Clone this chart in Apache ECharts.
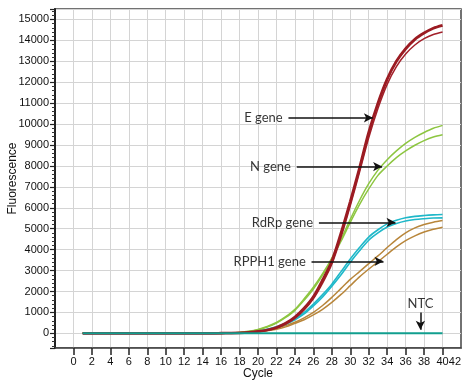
<!DOCTYPE html>
<html>
<head>
<meta charset="utf-8">
<script src="https://cdn.jsdelivr.net/npm/echarts@6/dist/echarts.min.js"></script>
<style>html,body{margin:0;padding:0;background:#fff}#c{width:463px;height:380px}</style>
</head>
<body>
<div id="c"></div>
<script>
const cycles = [1,2,3,4,5,6,7,8,9,10,11,12,13,14,15,16,17,18,19,20,21,22,23,24,25,26,27,28,29,30,31,32,33,34,35,36,37,38,39,40];
const xTickLabels = [0,2,4,6,8,10,12,14,16,18,20,22,24,26,28,30,32,34,36,38,40,42];
const xTickMarks = [0,2,4,6,8,10,12,14,16,18,20,22,24,26,28,30,32,34,36,38,40];

const eHigh = [0,0,0,0,0,0,0,0,0,0,0,0,0,0,0,5,10,20,45,90,160,280,480,780,1200,1750,2550,3450,4800,6300,7900,9600,11000,12150,13000,13600,14050,14350,14580,14720];
const eLow  = [0,0,0,0,0,0,0,0,0,0,0,0,0,0,0,4,8,18,40,80,145,255,440,720,1120,1650,2400,3300,4600,6100,7700,9350,10750,11900,12750,13350,13780,14080,14280,14400];
const nHigh = [0,0,0,0,0,0,0,0,0,0,0,0,0,0,0,6,18,45,100,190,330,520,800,1150,1650,2200,2850,3600,4500,5450,6350,7150,7800,8300,8720,9080,9370,9600,9800,9940];
const nLow  = [0,0,0,0,0,0,0,0,0,0,0,0,0,0,0,5,15,40,90,175,305,490,760,1100,1580,2120,2780,3550,4400,5300,6150,6900,7550,8000,8400,8720,8990,9210,9380,9490];
const rdrpHigh = [0,0,0,0,0,0,0,0,0,0,0,0,0,0,0,4,10,25,60,120,200,320,480,700,1000,1400,1850,2350,2950,3550,4100,4600,4950,5230,5400,5520,5590,5630,5660,5680];
const rdrpLow  = [0,0,0,0,0,0,0,0,0,0,0,0,0,0,0,3,8,22,52,105,180,290,440,650,930,1310,1740,2250,2800,3400,3950,4450,4800,5080,5250,5370,5440,5480,5510,5520];
const rpphHigh = [0,0,0,0,0,0,0,0,0,0,0,0,0,0,0,4,10,25,50,90,150,240,370,530,740,1000,1330,1720,2150,2580,2950,3330,3700,4100,4480,4800,5040,5200,5310,5390];
const rpphLow  = [0,0,0,0,0,0,0,0,0,0,0,0,0,0,0,3,8,20,42,75,125,200,310,480,650,880,1150,1480,1860,2280,2700,3070,3420,3780,4130,4430,4660,4840,4970,5070];
const ntc = [0,0,0,0,0,0,0,0,0,0,0,0,0,0,0,0,0,0,0,0,0,0,0,0,0,0,0,0,0,0,0,0,0,0,0,0,0,0,0,0];

// annotations (data coordinates)
const annText = ['E gene','N gene','RdRp gene','RPPH1 gene','NTC'];
const annTextX = [23.0,23.9,26.3,25.5,37.6];
const annTextY = [10300,7970,5300,3440,1430];
const annTextPos = ['left','left','left','left','inside'];
const arrowFrom = [[23.3,10300],[24.2,7970],[26.6,5300],[25.8,3440],[37.6,1000]];
const arrowTo   = [[32.45,10300],[33.45,7970],[34.9,5300],[33.6,3440],[37.6,170]];

const pair = (ys) => cycles.map((c, i) => [c, ys[i]]);

function curve(name, ys, color, width) {
  return { name, type: 'line', data: pair(ys), showSymbol: false, symbol: 'none', smooth: 0.3,
    lineStyle: { color, width }, itemStyle: { color }, z: 3, animation: false };
}

const chart = echarts.init(document.getElementById('c'), null, { renderer: 'canvas' });
chart.setOption({
  backgroundColor: '#fff',
  animation: false,
  grid: { left: 55, right: 2, top: 9, bottom: 32, show: true, borderColor: '#444', borderWidth: 1.5, containLabel: false, outerBoundsMode: 'none' },
  xAxis: {
    type: 'value', min: -2, max: 42, interval: 2,
    name: 'Cycle', nameLocation: 'middle', nameGap: 20, nameMoveOverlap: false,
    nameTextStyle: { fontFamily: 'Liberation Sans', fontSize: 12, color: '#111' },
    axisLine: { show: true, onZero: false, lineStyle: { color: '#444', width: 1.5 } },
    axisTick: { show: true, length: 7, lineStyle: { color: '#222', width: 1.5 }, customValues: xTickMarks },
    axisLabel: { fontFamily: 'Liberation Sans', fontSize: 11, color: '#111', margin: 8, customValues: xTickLabels, hideOverlap: false, alignMaxLabel: 'right' },
    splitLine: { show: true, lineStyle: { color: '#d4d4d4', width: 1 } }
  },
  yAxis: {
    type: 'value', min: -700, max: 15500, splitNumber: 16,
    name: 'Fluorescence', nameLocation: 'middle', nameGap: 36, nameMoveOverlap: false,
    nameTextStyle: { fontFamily: 'Liberation Sans', fontSize: 12, color: '#111' },
    axisLine: { show: true, onZero: false, lineStyle: { color: '#222', width: 2 } },
    axisTick: { show: true, length: 5, lineStyle: { color: '#222', width: 1.2 } },
    minorTick: { show: true, splitNumber: 5, length: 3, lineStyle: { color: '#333', width: 1 } },
    axisLabel: { fontFamily: 'Liberation Sans', fontSize: 11, color: '#111', margin: 6, showMinLabel: false, showMaxLabel: false,
      formatter: (v) => String(v) },
    splitLine: { show: true, lineStyle: { color: '#d4d4d4', width: 1 } }
  },
  series: [
    curve('RPPH1 a', rpphHigh, '#b8863b', 1.5),
    curve('RPPH1 b', rpphLow, '#b8863b', 1.5),
    curve('RdRp a', rdrpHigh, '#1fb8c9', 1.6),
    curve('RdRp b', rdrpLow, '#1fb8c9', 1.6),
    curve('N a', nHigh, '#8dc641', 1.5),
    curve('N b', nLow, '#8dc641', 1.5),
    curve('E b', eLow, '#a3202a', 1.5),
    curve('E a', eHigh, '#9b1b22', 2.8),
    curve('NTC', ntc, '#119e8e', 2),
    {
      name: 'annotations', type: 'scatter', symbolSize: 0, z: 5, animation: false,
      data: annText.map((t, i) => ({ value: [annTextX[i], annTextY[i]], label: { show: true, formatter: t, position: annTextPos[i], distance: 3 } })),
      label: { fontFamily: 'Lato', fontSize: 13, color: '#000' },
      markLine: {
        silent: true, symbol: ['none', 'arrow'], symbolSize: [7, 9], animation: false,
        lineStyle: { color: '#111', width: 1.5, type: 'solid' }, label: { show: false },
        data: arrowFrom.map((f, i) => [{ coord: f }, { coord: arrowTo[i] }])
      }
    }
  ]
});
</script>
</body>
</html>
